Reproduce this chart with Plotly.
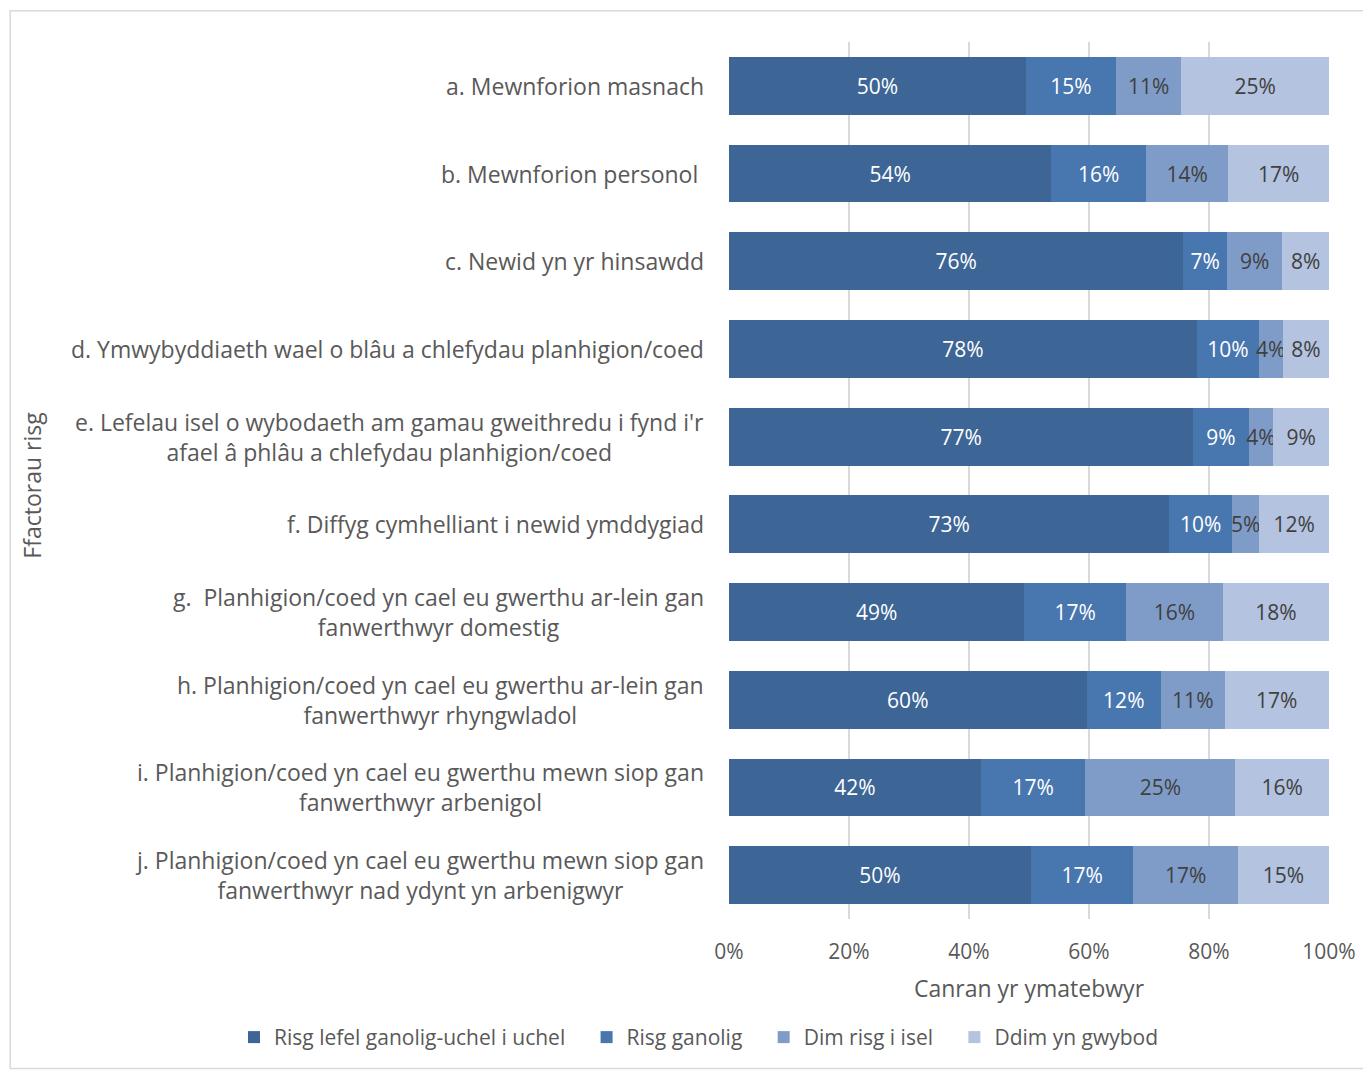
import plotly.graph_objects as go

categories = [
    "a. Mewnforion masnach",
    "b. Mewnforion personol ",
    "c. Newid yn yr hinsawdd",
    "d. Ymwybyddiaeth wael o blâu a chlefydau planhigion/coed",
    "e. Lefelau isel o wybodaeth am gamau gweithredu i fynd i'r<br>afael â phlâu a chlefydau planhigion/coed",
    "f. Diffyg cymhelliant i newid ymddygiad",
    "g.  Planhigion/coed yn cael eu gwerthu ar-lein gan<br>fanwerthwyr domestig",
    "h. Planhigion/coed yn cael eu gwerthu ar-lein gan<br>fanwerthwyr rhyngwladol",
    "i. Planhigion/coed yn cael eu gwerthu mewn siop gan<br>fanwerthwyr arbenigol",
    "j. Planhigion/coed yn cael eu gwerthu mewn siop gan<br>fanwerthwyr nad ydynt yn arbenigwyr",
]
series_names = ["Risg lefel ganolig-uchel i uchel", "Risg ganolig", "Dim risg i isel", "Ddim yn gwybod"]

high   = [49.5, 53.7, 75.7, 78.0, 77.4, 73.4, 49.2, 59.6, 42.0, 50.3]
medium = [15.0, 15.8,  7.3, 10.3,  9.2, 10.4, 17.0, 12.4, 17.4, 17.1]
low    = [10.9, 13.7,  9.2,  4.0,  4.1,  4.6, 16.1, 10.6, 25.0, 17.4]
dunno  = [24.6, 16.8,  7.8,  7.7,  9.3, 11.6, 17.7, 17.4, 15.6, 15.2]

x_ticks = [0, 20, 40, 60, 80, 100]
x_ticklabels = ["0%", "20%", "40%", "60%", "80%", "100%"]

colors = ["#3D6595", "#4876AF", "#7F9CC8", "#B4C3DF"]
text_colors = ["#FFFFFF", "#FFFFFF", "#404040", "#404040"]
FONT = "Open Sans, sans-serif"
GREY = "#595959"
PAD = "\u00a0\u00a0\u00a0"  # extra gap after legend entries

fig = go.Figure()
n = len(series_names)
for i, (name, vals, col, tcol) in enumerate(zip(series_names, [high, medium, low, dunno], colors, text_colors)):
    fig.add_trace(go.Bar(
        y=categories, x=vals, name=name + (PAD if i < n - 1 else ""), orientation="h",
        marker=dict(color=col, line=dict(width=0)),
        text=[f"{round(v)}%" for v in vals],
        textposition="inside", insidetextanchor="middle", textangle=0,
        textfont=dict(color=tcol, size=21, family=FONT),
        cliponaxis=False,
    ))

# category labels as annotations (centered multi-line blocks)
for c in categories:
    fig.add_annotation(
        x=-0.038, xref="paper", y=c, yref="y", text=c, showarrow=False,
        xanchor="right", yanchor="middle", align="center",
        font=dict(size=23, color=GREY, family=FONT),
    )

fig.add_shape(type="rect", xref="paper", yref="paper",
              x0=-1.198, x1=1.1, y0=-0.1705, y1=1.0355,
              line=dict(color="#D9D9D9", width=1.5), fillcolor="rgba(0,0,0,0)", layer="below")

fig.add_annotation(
    x=-1.162, xref="paper", y=0.495, yref="paper", text="Ffactorau risg",
    textangle=-90, showarrow=False, xanchor="center", yanchor="middle",
    font=dict(size=23, color=GREY, family=FONT),
)

fig.update_layout(
    width=1363, height=1062,
    barmode="stack", bargap=0.34,
    plot_bgcolor="white", paper_bgcolor="white",
    margin=dict(l=721, r=42, t=34, b=151, autoexpand=False),
    font=dict(family=FONT, color=GREY, size=21),
    uniformtext=dict(mode="show", minsize=21),
    xaxis=dict(
        range=[0, 100.001], tickvals=x_ticks, ticktext=x_ticklabels,
        showgrid=True, gridcolor="#D9D9D9", gridwidth=2,
        zeroline=False, showline=False, ticks="",
        ticklabelstandoff=18,
        tickfont=dict(size=21, color=GREY, family=FONT),
        title=dict(text="Canran yr ymatebwyr", font=dict(size=23, color=GREY, family=FONT), standoff=16),
    ),
    yaxis=dict(
        autorange="reversed", showticklabels=False, showgrid=False,
        zeroline=False, showline=False, ticks="",
        title=None,
    ),
    legend=dict(
        orientation="h", x=-0.825, xanchor="left", y=-0.1117, yanchor="top",
        font=dict(size=21, color=GREY, family=FONT), traceorder="normal",
        itemwidth=30,
    ),
    showlegend=True,
)

fig.write_html("out.html")
